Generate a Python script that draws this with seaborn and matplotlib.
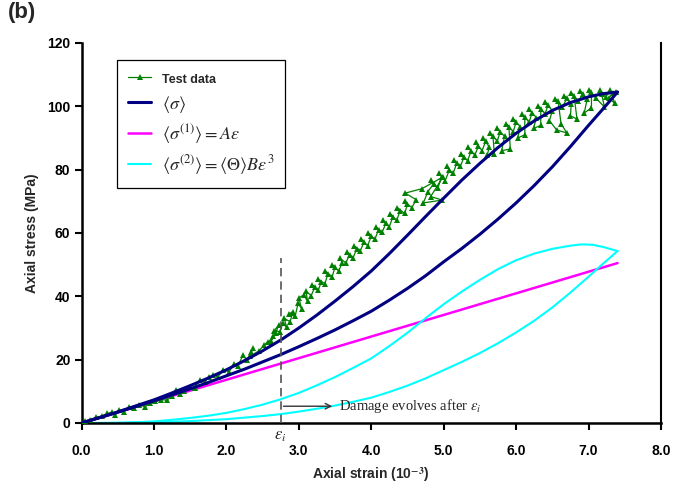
import numpy as np
import pandas as pd
import matplotlib
matplotlib.use("Agg")
import matplotlib.pyplot as plt
import seaborn as sns

# ---------------- data ----------------
# Test data path (strain 1e-3, stress MPa)
test_strain = [0.00, 0.05, 0.12, 0.20, 0.28, 0.35, 0.42, 0.46, 0.52, 0.58, 0.66, 0.72, 0.80, 0.88,
               0.95, 1.02, 1.10, 1.18, 1.25, 1.31, 1.36, 1.42, 1.50, 1.56, 1.63, 1.70, 1.76, 1.82,
               1.88, 1.96, 2.04, 2.10, 2.16, 2.23, 2.28, 2.34, 2.37, 2.32, 2.45, 2.52, 2.57,
               2.60, 2.64, 2.62, 2.68, 2.72, 2.66, 2.74, 2.78, 2.83, 2.80, 2.88, 2.92, 2.86, 2.95,
               2.99, 3.04, 3.00, 3.07, 3.12, 3.10, 3.17, 3.22, 3.18, 3.27, 3.31, 3.26, 3.36, 3.40,
               3.36, 3.46, 3.50, 3.46, 3.55, 3.60, 3.57, 3.65, 3.70, 3.66, 3.75, 3.80, 3.76, 3.85,
               3.90, 3.86, 3.95, 4.00, 3.96, 4.05, 4.10, 4.06, 4.15, 4.20, 4.16, 4.25, 4.30, 4.26,
               4.35, 4.40, 4.36, 4.46, 4.50, 4.46, 4.56, 4.62, 4.47, 4.70, 4.99, 4.82, 4.98, 4.72,
               4.78, 4.86, 4.82, 4.92, 4.97, 4.93, 5.02, 5.08, 5.04, 5.13, 5.18, 5.14, 5.23, 5.28,
               5.24, 5.33, 5.38, 5.34, 5.43, 5.48, 5.44, 5.53, 5.58, 5.54, 5.63, 5.60, 5.70, 5.68,
               5.64, 5.74, 5.78, 5.74, 5.84, 5.80, 5.92, 5.90, 5.86, 5.96, 6.00, 5.96, 6.06, 6.02,
               6.12, 6.12, 6.08, 6.18, 6.22, 6.18, 6.28, 6.24, 6.34, 6.34, 6.30, 6.40, 6.44, 6.40,
               6.50, 6.46, 6.56, 6.70, 6.62, 6.58, 6.54, 6.64, 6.70, 6.66, 6.76, 6.75, 6.84, 6.80,
               6.76, 6.86, 6.92, 6.88, 6.98, 6.94, 7.04, 7.04, 7.00, 7.10, 7.22, 7.18, 7.16, 7.24,
               7.30, 7.36, 7.28, 7.34, 7.38]
test_stress = [0.0, 0.5, 1.0, 1.8, 2.2, 3.0, 3.4, 2.4, 4.0, 3.6, 5.0, 4.6, 5.6, 5.2,
               6.2, 6.8, 7.4, 7.2, 8.6, 10.4, 9.0, 10.2, 11.4, 11.0, 13.6, 13.0, 14.4, 15.2,
               14.6, 16.7, 16.2, 18.6, 18.0, 21.5, 19.8, 22.4, 23.7, 21.0, 22.8, 24.6, 25.6,
               25.5, 27.5, 26.0, 28.4, 30.8, 29.2, 28.8, 31.5, 30.2, 33.0, 32.0, 35.2, 34.4, 33.8,
               37.8, 36.0, 39.5, 40.5, 38.4, 41.6, 40.2, 42.8, 43.6, 42.0, 44.6, 45.4, 44.0, 47.0,
               48.0, 46.2, 49.2, 50.0, 48.0, 50.6, 52.0, 50.5, 53.2, 54.0, 52.2, 55.0, 56.0, 54.4,
               57.2, 58.0, 56.0, 59.0, 60.0, 58.0, 61.0, 62.0, 60.2, 63.0, 64.0, 62.0, 65.2, 66.0,
               64.0, 67.0, 68.0, 66.2, 69.0, 70.0, 68.0, 70.5, 72.6, 74.0, 77.7, 71.5, 70.4, 69.5,
               73.0, 75.5, 76.8, 74.2, 77.8, 79.0, 76.5, 80.0, 81.0, 78.8, 82.0, 83.0, 81.0, 84.0,
               85.0, 82.8, 86.0, 87.0, 84.6, 87.5, 88.6, 86.0, 89.0, 90.0, 87.2, 84.5, 85.0, 90.5,
               91.5, 89.0, 92.0, 93.0, 90.5, 86.0, 86.5, 93.5, 94.5, 92.0, 95.0, 96.0, 93.5, 90.0,
               91.0, 96.5, 97.5, 95.0, 98.0, 99.0, 96.4, 93.0, 94.0, 99.2, 100.2, 97.6, 100.4, 101.4,
               98.6, 95.5, 92.5, 91.6, 94.5, 101.6, 102.4, 99.8, 102.5, 103.4, 100.6, 97.0, 96.0, 103.4,
               104.2, 101.6, 104.0, 104.8, 102.2, 97.9, 99.5, 104.6, 105.2, 102.6, 99.8, 103.8, 105.0, 103.0,
               105.2, 101.0, 102.6, 104.2, 104.5]

# Model curves
sigma_strain = [0.0, 0.25, 0.5, 0.75, 1.0, 1.25, 1.5, 1.75, 2.0, 2.25, 2.5, 2.75, 3.0, 3.25, 3.5,
                3.75, 4.0, 4.25, 4.5, 4.75, 5.0, 5.25, 5.5, 5.75, 6.0, 6.25, 6.5, 6.75, 7.0, 7.2, 7.4]
sigma_upper = [0.0, 1.7, 3.5, 5.4, 7.3, 9.5, 11.8, 14.2, 16.8, 19.7, 22.8, 26.2, 30.0, 34.1, 38.5,
               43.1, 48.0, 53.5, 59.3, 65.2, 71.0, 76.7, 82.0, 87.0, 91.5, 95.4, 98.7, 101.2, 103.0, 104.0, 104.5]
sigma_lower = [0.0, 1.7, 3.4, 5.2, 7.0, 8.9, 10.8, 12.8, 14.9, 17.0, 19.3, 21.6, 24.1, 26.7, 29.4,
               32.3, 35.3, 38.8, 42.5, 46.5, 50.9, 55.1, 59.6, 64.4, 69.5, 75.0, 80.9, 87.3, 94.0, 99.2, 104.5]
sigma1_strain = [0.0, 7.4]
sigma1_stress = [0.0, 50.5]
sigma2_up_strain = [0.0, 0.25, 0.5, 0.75, 1.0, 1.25, 1.5, 1.75, 2.0, 2.25, 2.5, 2.75, 3.0, 3.25, 3.5,
                    3.75, 4.0, 4.25, 4.5, 4.75, 5.0, 5.25, 5.5, 5.75, 6.0, 6.25, 6.5, 6.75, 6.9, 7.05, 7.2, 7.4]
sigma2_up_stress = [0.0, 0.0, 0.1, 0.25, 0.5, 1.0, 1.6, 2.3, 3.2, 4.4, 5.8, 7.5, 9.5, 11.9, 14.5,
                    17.4, 20.4, 24.3, 28.5, 33.1, 37.5, 41.5, 45.2, 48.6, 51.4, 53.5, 55.0, 56.0, 56.4, 56.3, 55.6, 54.3]
sigma2_lo_strain = [0.0, 0.5, 1.0, 1.25, 1.5, 1.75, 2.0, 2.25, 2.5, 2.75, 3.0, 3.25, 3.5, 3.75, 4.0,
                    4.25, 4.5, 4.75, 5.0, 5.25, 5.5, 5.75, 6.0, 6.25, 6.5, 6.75, 7.0, 7.2, 7.4]
sigma2_lo_stress = [0.0, 0.0, 0.2, 0.4, 0.6, 0.9, 1.2, 1.7, 2.2, 2.8, 3.6, 4.5, 5.5, 6.7, 8.0,
                    9.8, 11.8, 14.1, 16.7, 19.3, 22.1, 25.2, 28.6, 32.3, 36.5, 41.2, 46.2, 50.3, 54.3]

eps_i = 2.75
x_ticks = [0.0, 1.0, 2.0, 3.0, 4.0, 5.0, 6.0, 7.0, 8.0]
y_ticks = [0, 20, 40, 60, 80, 100, 120]

# ---------------- plotting ----------------
sns.set_style("ticks")
plt.rcParams["font.family"] = ["Liberation Sans", "DejaVu Sans"]
plt.rcParams["mathtext.fontset"] = "stix"

fig = plt.figure(figsize=(6.92, 4.88), dpi=100)
ax = fig.add_axes([0.1178, 0.1332, 0.9552 - 0.1178, 0.9119 - 0.1332])

df_test = pd.DataFrame({"strain": test_strain, "stress": test_stress})
sns.lineplot(data=df_test, x="strain", y="stress", sort=False, estimator=None, ax=ax,
             color="#008000", lw=0.9, marker="^", markersize=5, markeredgewidth=0,
             zorder=3)

def curve(xs, ys, **kw):
    d = pd.DataFrame({"x": xs, "y": ys})
    sns.lineplot(data=d, x="x", y="y", sort=False, estimator=None, ax=ax, **kw)

curve(sigma1_strain, sigma1_stress, color="#FF00FF", lw=1.8, zorder=2)
curve(sigma2_up_strain, sigma2_up_stress, color="#00FFFF", lw=1.5, zorder=2)
curve(sigma2_lo_strain, sigma2_lo_stress, color="#00FFFF", lw=1.5, zorder=2)
curve(sigma_strain, sigma_upper, color="#000080", lw=2.2, zorder=4)
curve(sigma_strain, sigma_lower, color="#000080", lw=2.2, zorder=4)

lines = ax.get_lines()
h_test, h_mag, h_cyan, h_navy = lines[0], lines[1], lines[2], lines[4]

ax.set_xlim(0, 8)
ax.set_ylim(0, 120)
ax.set_xticks(x_ticks)
ax.set_xticklabels([f"{v:.1f}" for v in x_ticks])
ax.set_yticks(y_ticks)
ax.set_yticklabels([str(v) for v in y_ticks])
for lab in ax.get_xticklabels() + ax.get_yticklabels():
    lab.set_fontweight("bold")
    lab.set_fontsize(10)
ax.tick_params(direction="out", length=5, width=1.5, colors="black", pad=3)
ax.tick_params(axis="x", pad=10)

ax.set_xlabel(r"Axial strain (10$^{\mathbf{-3}}$)", fontsize=10, fontweight="bold", labelpad=5)
ax.set_ylabel("Axial stress (MPa)", fontsize=10, fontweight="bold", labelpad=6)

for s in ["left", "bottom"]:
    ax.spines[s].set_linewidth(1.8)
    ax.spines[s].set_color("black")
ax.spines["top"].set_visible(False)
ax.spines["right"].set_linewidth(1.5)
ax.spines["right"].set_color("black")

# damage onset marker
ax.vlines(eps_i, 0, 52, colors="#555555", linestyles=(0, (5, 3)), lw=1.2, zorder=5)
ax.annotate("", xy=(3.5, 5.3), xytext=(eps_i, 5.3),
            arrowprops=dict(arrowstyle="->", color="#333333", lw=1.0), zorder=5)
ax.text(3.56, 5.3, r"Damage evolves after $\varepsilon_i$", fontsize=10.5,
        family=["Liberation Serif", "DejaVu Serif"], va="center", ha="left")
ax.text(eps_i, -2.0, r"$\varepsilon_i$", fontsize=12, ha="center", va="top")

leg = ax.legend([h_test, h_navy, h_mag, h_cyan],
                ["Test data",
                 r"$\left\langle \sigma \right\rangle$",
                 r"$\left\langle \sigma^{(1)} \right\rangle = A\varepsilon$",
                 r"$\left\langle \sigma^{(2)} \right\rangle = \left\langle \Theta \right\rangle B\varepsilon^3$"],
                loc="upper left", bbox_to_anchor=(117 / 692, 1 - 60 / 488),
                bbox_transform=fig.transFigure, borderaxespad=0,
                fontsize=13, frameon=True, fancybox=False, framealpha=1,
                edgecolor="black", handlelength=1.3, handletextpad=0.6,
                labelspacing=0.4, numpoints=1, borderpad=0.6)
leg.get_frame().set_linewidth(0.9)
t0 = leg.get_texts()[0]
t0.set_fontweight("bold")
t0.set_fontsize(9)

fig.text(0.012, 0.995, "(b)", fontsize=16, fontweight="bold", va="top", ha="left")

fig.savefig("out.png", dpi=100)
